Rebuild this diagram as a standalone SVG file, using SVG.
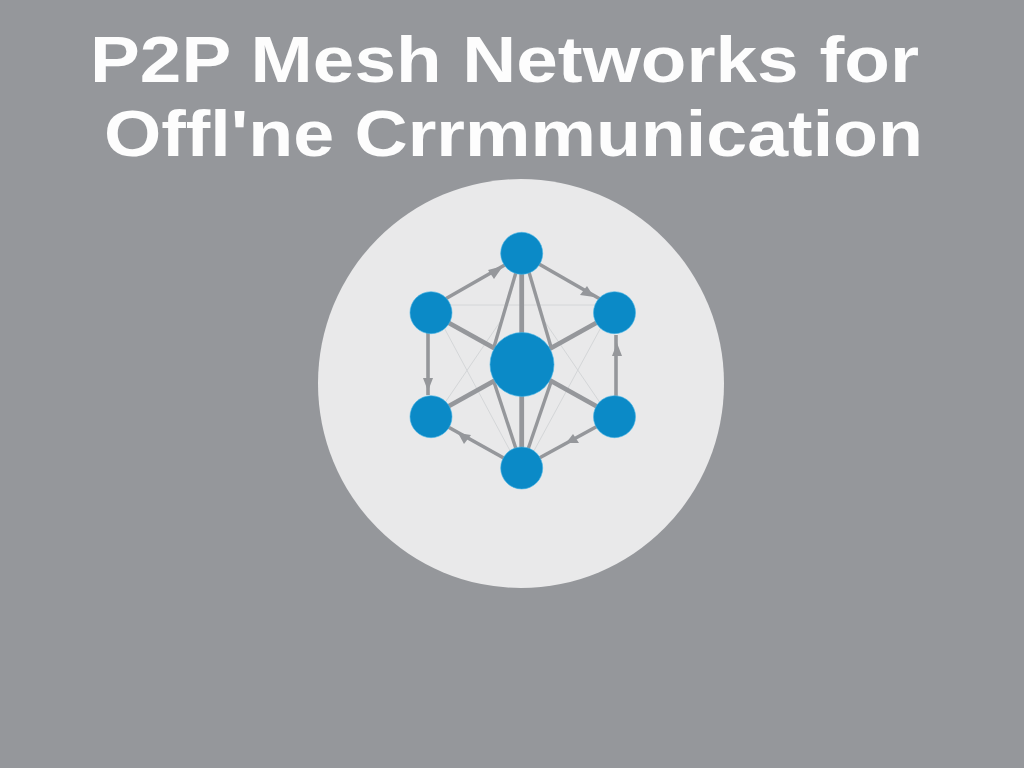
<svg xmlns="http://www.w3.org/2000/svg" width="1024" height="768" viewBox="0 0 1024 768">
<style>
.title{font-family:"Liberation Sans",Arial,sans-serif;font-weight:700;font-size:64px;fill:#fdfdfd}
.node{fill:#0b8ac7;stroke:#45b4e6;stroke-width:.6}
.edge{stroke:#95979b;fill:none}
.faint{stroke:#d4d6d8;stroke-width:1;fill:none}
.arrow{fill:#95979b}
</style>
<rect width="1024" height="768" fill="#95979b"/>
<ellipse id="disc-bg" cx="521" cy="383.5" rx="203" ry="204.5" fill="#e9e9ea"/>
<text class="title" x="90" y="82" textLength="829" lengthAdjust="spacingAndGlyphs">P2P Mesh Networks for</text>
<text class="title" x="104" y="155.5" textLength="819" lengthAdjust="spacingAndGlyphs">Offl'ne Crrmmunication</text>
<g id="connectors">
<g class="faint">
<path d="M440 305H605"/>
<path d="M440 320L515 460"/>
<path d="M605 320L529 460"/>
<path d="M440 410L500 322"/>
<path d="M605 410L545 322"/>
</g>
<g class="edge" stroke-width="3.6">
<path d="M440 302L510 262"/>
<path d="M532 260L600 299"/>
<path d="M616 408V335"/>
<path d="M605 422L532 462"/>
<path d="M511 462L441 423"/>
<path d="M428 325V395"/>
</g>
<g class="edge" stroke-width="3.4">
<path d="M519 262L494 347"/>
<path d="M526 262L551 347"/>
<path d="M494 382L519 458"/>
<path d="M551 382L525 458"/>
</g>
<g class="edge" stroke-width="4.8">
<path d="M521.7 265V345"/>
<path d="M521.7 385V455"/>
<path d="M440 318L510 357"/>
<path d="M605 318L535 357"/>
<path d="M440 411L510 372"/>
<path d="M605 411L535 372"/>
</g>
<g class="arrow">
<path d="M503 266L488 270L494 279Z"/>
<path d="M594 297L587 286L580 295Z"/>
<path d="M617 343L612 356H622Z"/>
<path d="M566 443L573 434L579 443Z"/>
<path d="M458 433L471 435L464 444Z"/>
<path d="M428 391L423 378H433Z"/>
</g>
</g>
<g id="node-top"><circle class="node" cx="521.7" cy="253.3" r="21"/></g>
<g id="node-upper-left"><circle class="node" cx="431" cy="312.7" r="21"/></g>
<g id="node-upper-right"><circle class="node" cx="614.5" cy="312.7" r="21"/></g>
<g id="node-lower-left"><circle class="node" cx="431" cy="416.7" r="21"/></g>
<g id="node-lower-right"><circle class="node" cx="614.5" cy="416.7" r="21"/></g>
<g id="node-bottom"><circle class="node" cx="521.7" cy="468" r="21"/></g>
<g id="node-center"><circle class="node" cx="522" cy="364.5" r="32"/></g>
</svg>
